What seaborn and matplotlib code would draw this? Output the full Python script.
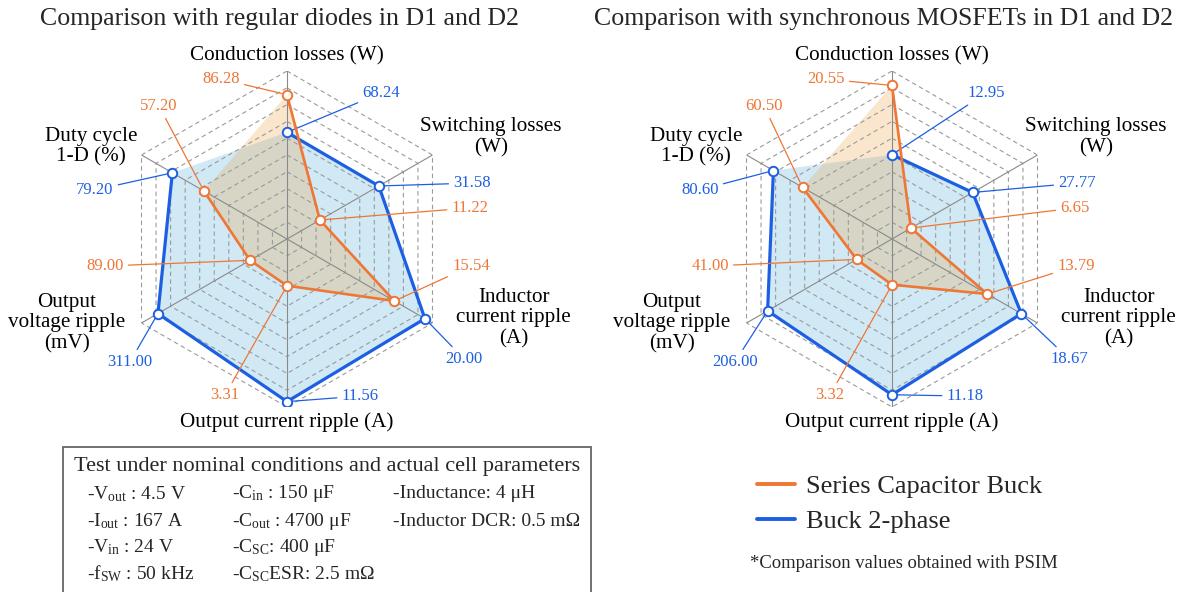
import numpy as np
import pandas as pd
import matplotlib
matplotlib.use("Agg")
import matplotlib.pyplot as plt
from matplotlib.lines import Line2D
from matplotlib.patches import Rectangle
import seaborn as sns

W, H = 1192, 592

axis_names = [
    "Conduction losses (W)",
    "Switching losses\n(W)",
    "Inductor\ncurrent ripple\n(A)",
    "Output current ripple (A)",
    "Output\nvoltage ripple\n(mV)",
    "Duty cycle\n1-D (%)",
]

# position on the radar (fraction of the outer ring)
left_series_r = [0.859, 0.226, 0.738, 0.278, 0.254, 0.571]
left_buck_r = [0.635, 0.631, 0.948, 0.968, 0.887, 0.788]
right_series_r = [0.914, 0.130, 0.655, 0.272, 0.243, 0.615]
right_buck_r = [0.502, 0.554, 0.889, 0.927, 0.855, 0.815]

# values written next to the points
left_series_vals = [86.28, 11.22, 15.54, 3.31, 89.00, 57.20]
left_buck_vals = [68.24, 31.58, 20.00, 11.56, 311.00, 79.20]
right_series_vals = [20.55, 6.65, 13.79, 3.32, 41.00, 60.50]
right_buck_vals = [12.95, 27.77, 18.67, 11.18, 206.00, 80.60]

titles = ["Comparison with regular diodes in D1 and D2",
          "Comparison with synchronous MOSFETs in D1 and D2"]

ORANGE = "#EF7634"
ORANGE_FILL = "#EA9831"
BLUE = "#1C5FE3"
BLUE_FILL = "#5CB3DD"
GRID = "#9a9a9a"

sns.set_style("white")
plt.rcParams["font.family"] = ["Liberation Serif", "DejaVu Serif"]
plt.rcParams["mathtext.fontset"] = "custom"
plt.rcParams["mathtext.rm"] = "Liberation Serif"
plt.rcParams["mathtext.it"] = "Liberation Serif:italic"

fig = plt.figure(figsize=(W / 100, H / 100), dpi=100)


def fx(x):
    return x / W


def fy(y):
    return 1 - y / H


# label offsets, in units of the outer radius, from the centre
series_lbl = [(-0.393, 0.952), (1.089, 0.185), (1.095, -0.161),
              (-0.369, -0.929), (-1.083, -0.161), (-0.762, 0.792)]
buck_lbl = [(0.56, 0.869), (1.101, 0.333), (1.054, -0.714),
            (0.435, -0.935), (-0.935, -0.732), (-1.143, 0.292)]
name_lbl = [(0, 1.089), (1.215, 0.607), (1.35, -0.47),
            (0, -1.089), (-1.31, -0.5), (-1.167, 0.548)]

theta = np.deg2rad(np.arange(0, 360, 60))
theta_c = np.append(theta, theta[0])
R = 168


def radar(cx, cy, title, s_r, b_r, s_vals, b_vals):
    rect = [fx(cx - R), fy(cy + R), 2 * R / W, 2 * R / H]

    # filled areas on a flat axes underneath, so the edges stay straight
    axf = fig.add_axes(rect)
    axf.set_xlim(-1, 1)
    axf.set_ylim(-1, 1)
    axf.axis("off")
    for r, c, a in [(b_r, BLUE_FILL, 0.28), (s_r, ORANGE_FILL, 0.24)]:
        rc = np.array(r + r[:1])
        axf.fill(rc * np.sin(theta_c), rc * np.cos(theta_c), color=c, alpha=a, lw=0)

    ax = fig.add_axes(rect, projection="polar")
    ax.set_theta_zero_location("N")
    ax.set_theta_direction(-1)
    ax.set_ylim(0, 1)
    ax.grid(False)
    ax.set_xticks([])
    ax.set_yticks([])
    ax.spines["polar"].set_visible(False)
    ax.patch.set_alpha(0)

    for lev in np.arange(1, 11) / 10:
        ax.plot(theta_c, [lev] * 7, color=GRID, lw=0.8, ls=(0, (4, 3)), zorder=1)
    for t in theta:
        ax.plot([t, t], [0, 1], color="#8a8a8a", lw=0.8, zorder=1)

    df_b = pd.DataFrame({"t": theta_c, "r": b_r + b_r[:1]})
    df_s = pd.DataFrame({"t": theta_c, "r": s_r + s_r[:1]})
    sns.lineplot(data=df_b, x="t", y="r", sort=False, ax=ax, color=BLUE, lw=2.3,
                 marker="o", markersize=6.8, markerfacecolor="white",
                 markeredgecolor=BLUE, markeredgewidth=1.4, zorder=3)
    sns.lineplot(data=df_s, x="t", y="r", sort=False, ax=ax, color=ORANGE, lw=1.9,
                 marker="o", markersize=6.8, markerfacecolor="white",
                 markeredgecolor=ORANGE, markeredgewidth=1.4, zorder=4)
    ax.set_xlabel("")
    ax.set_ylabel("")

    for vals, rs, pos, c in [(s_vals, s_r, series_lbl, ORANGE),
                             (b_vals, b_r, buck_lbl, BLUE)]:
        for v, r, t, (u, w) in zip(vals, rs, theta, pos):
            ax.annotate(f"{v:.2f}", xy=(t, r), xytext=(0.5 + u / 2, 0.5 + w / 2),
                        textcoords="axes fraction", ha="center", va="center",
                        fontsize=12, color=c, annotation_clip=False,
                        arrowprops=dict(arrowstyle="-", color=c, lw=0.9,
                                        shrinkA=1, shrinkB=4))

    for name, (u, w) in zip(axis_names, name_lbl):
        ax.text(0.5 + u / 2, 0.5 + w / 2, name, transform=ax.transAxes,
                ha="center", va="center", multialignment="center",
                fontsize=15.2, linespacing=1.12, color="black")

    fig.text(fx(cx - 8), fy(19), title, ha="center", va="center", fontsize=18.6)


radar(287, 239, titles[0], left_series_r, left_buck_r,
      left_series_vals, left_buck_vals)
radar(892, 239, titles[1], right_series_r, right_buck_r,
      right_series_vals, right_buck_vals)

# parameter box
fig.patches.append(Rectangle((fx(63), fy(600)), fx(591) - fx(63), fy(447) - fy(600),
                             transform=fig.transFigure, fill=False,
                             edgecolor="#666666", lw=1.3))
fig.text(fx(327), fy(467), "Test under nominal conditions and actual cell parameters",
         ha="center", va="center", fontsize=16)

col1 = [r"-V$_{\mathrm{out}}$ : 4.5 V", r"-I$_{\mathrm{out}}$ : 167 A",
        r"-V$_{\mathrm{in}}$ : 24 V", r"-f$_{\mathrm{SW}}$ : 50 kHz"]
col2 = [r"-C$_{\mathrm{in}}$ : 150 μF", r"-C$_{\mathrm{out}}$ : 4700 μF",
        r"-C$_{\mathrm{SC}}$: 400 μF", r"-C$_{\mathrm{SC}}$ESR: 2.5 mΩ"]
col3 = ["-Inductance: 4 μH", "-Inductor DCR: 0.5 mΩ"]
rows_y = [494, 521, 547, 574]
for col, x0 in [(col1, 87), (col2, 232), (col3, 393)]:
    for txt, y in zip(col, rows_y):
        fig.text(fx(x0), fy(y), txt, ha="left", va="center", fontsize=14)

handles = [Line2D([], [], color=ORANGE, lw=2.8),
           Line2D([], [], color=BLUE, lw=2.8)]
fig.legend(handles, ["Series Capacitor Buck", "Buck 2-phase"],
           loc="upper left", bbox_to_anchor=(fx(757), fy(475)), frameon=False,
           fontsize=19, handlelength=1.45, handletextpad=0.42,
           labelspacing=0.42, borderpad=0, borderaxespad=0)
fig.text(fx(750), fy(563), "*Comparison values obtained with PSIM",
         ha="left", va="center", fontsize=13.4)

fig.savefig("out.png", dpi=100)
